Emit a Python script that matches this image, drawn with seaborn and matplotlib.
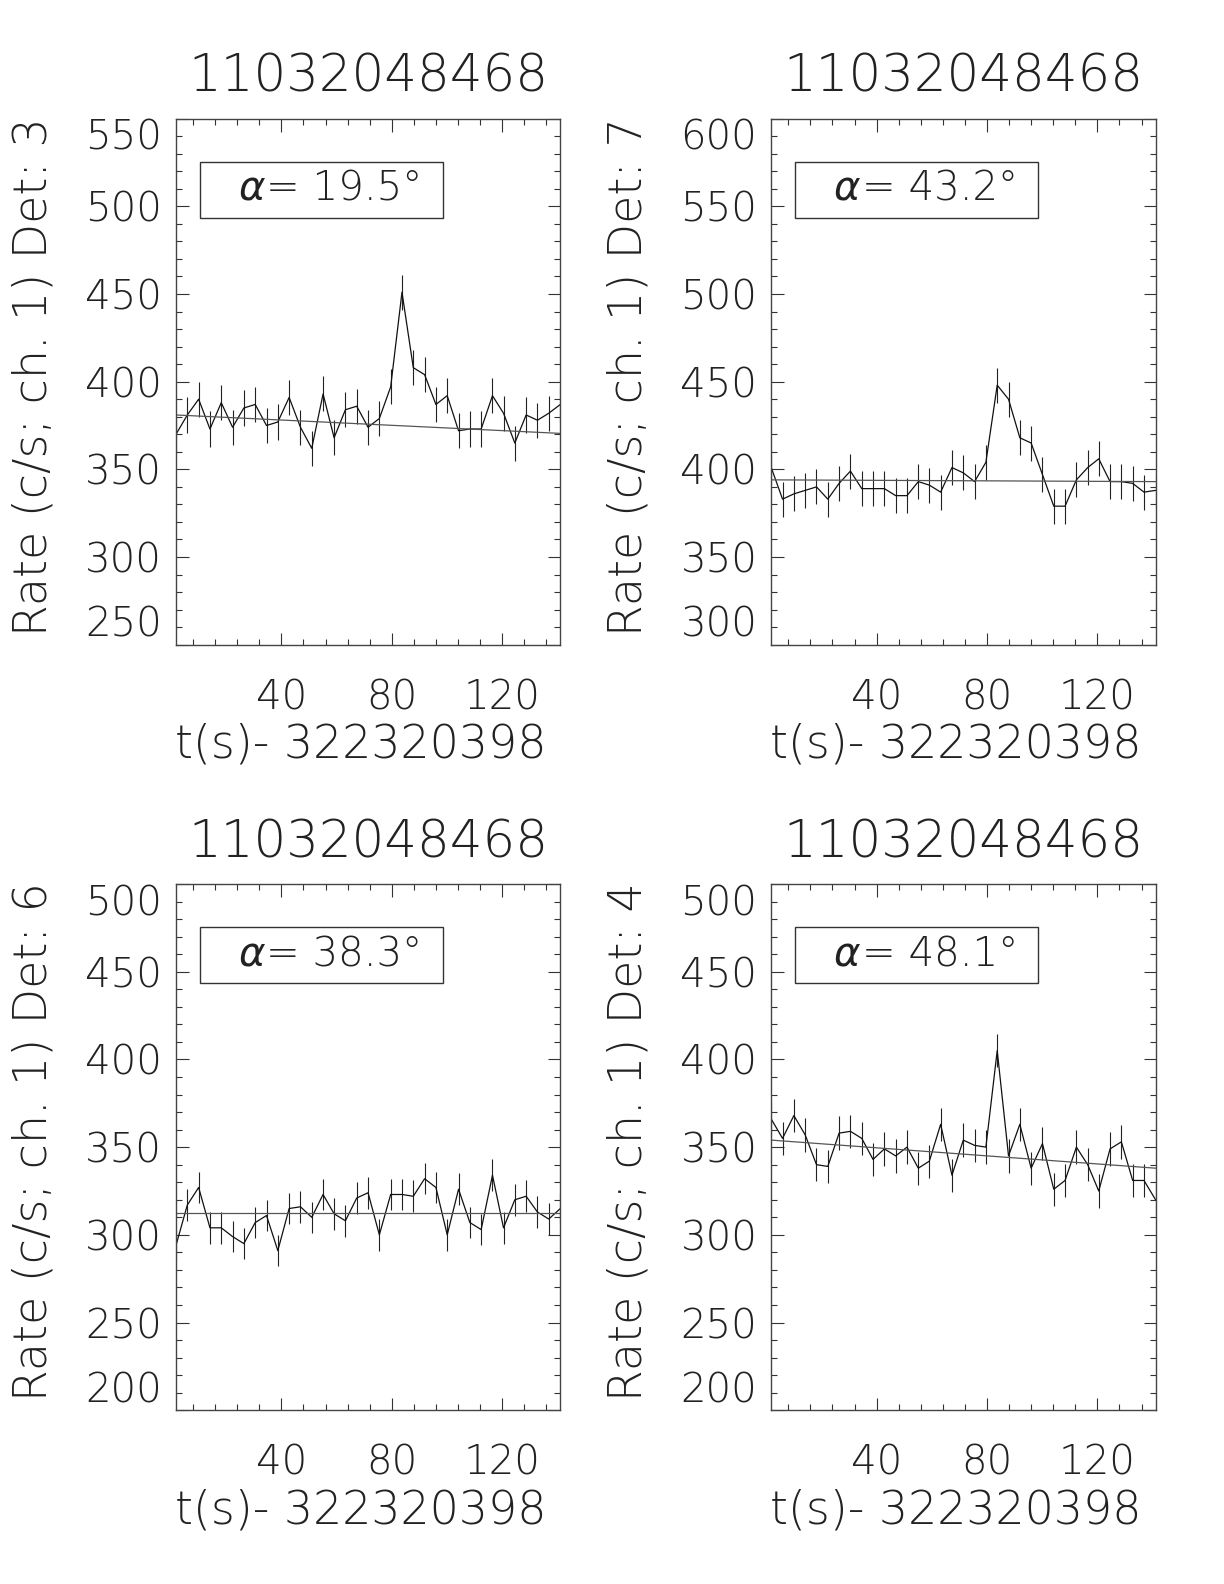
import numpy as np
import pandas as pd
import matplotlib
matplotlib.use('Agg')
import matplotlib.pyplot as plt
from matplotlib.patches import Rectangle
from matplotlib.ticker import MultipleLocator
import seaborn as sns

# bin times (s) relative to 322320398
t = [1.8, 5.9, 10.0, 14.1, 18.2, 22.3, 26.4, 30.5, 34.6, 38.7, 42.8, 46.9,
     51.0, 55.1, 59.1, 63.2, 67.3, 71.4, 75.5, 79.6, 83.7, 87.8, 91.9, 96.0,
     100.1, 104.2, 108.3, 112.4, 116.5, 120.5, 124.6, 128.7, 132.8, 136.9, 141.1]

# count rates per detector (c/s, ch. 1)
rate_det3 = [370, 381, 390, 373, 388, 374, 385, 387, 375, 377, 391, 374, 362, 393,
             368, 384, 386, 374, 379, 397, 451, 408, 404, 387, 392, 372, 373, 373,
             392, 382, 365, 381, 378, 382, 387]
rate_det7 = [401, 383, 386, 388, 390, 383, 392, 399, 389, 389, 389, 385, 385, 393,
             391, 387, 401, 398, 393, 404, 448, 440, 418, 415, 397, 379, 379, 394,
             401, 406, 393, 393, 392, 387, 388]
rate_det6 = [294, 317, 327, 304, 304, 299, 295, 307, 311, 291, 315, 316, 310, 323,
             312, 308, 321, 324, 300, 323, 323, 322, 332, 327, 300, 326, 307, 303,
             334, 304, 320, 322, 313, 309, 315]
rate_det4 = [366, 355, 368, 357, 340, 339, 358, 359, 355, 343, 349, 345, 350, 338,
             342, 363, 334, 354, 351, 350, 405, 345, 363, 338, 352, 326, 331, 350,
             340, 325, 349, 353, 331, 331, 320]

# background fit, value at first and last bin
fit_det3 = [381, 370.5]
fit_det7 = [394, 393]
fit_det6 = [312.5, 312.5]
fit_det4 = [354, 338]

# error bar half length per detector
err_det3 = 10
err_det7 = 10
err_det6 = 9
err_det4 = 9.5

dets = [3, 7, 6, 4]
alphas = [19.5, 43.2, 38.3, 48.1]
yranges = [(250, 550), (300, 600), (200, 500), (200, 500)]
xticks = [40, 80, 120]
title = '11032048468'
xlabel = 't(s)- 322320398'

rates = [rate_det3, rate_det7, rate_det6, rate_det4]
fits = [fit_det3, fit_det7, fit_det6, fit_det4]
errs = [err_det3, err_det7, err_det6, err_det4]

sns.set_style('ticks')
plt.rcParams['font.family'] = ['DejaVu Sans']
plt.rcParams['font.weight'] = 'light'

txt = '#222222'
fig = plt.figure(figsize=(12.24, 15.84), dpi=100)

# axes boxes in figure fractions
positions = [(0.1438, 0.5930, 0.3140, 0.3321),
             (0.6301, 0.5930, 0.3140, 0.3321),
             (0.1438, 0.1097, 0.3140, 0.3322),
             (0.6301, 0.1097, 0.3140, 0.3322)]

for k in range(4):
    ax = fig.add_axes(positions[k])
    df = pd.DataFrame({'t': t, 'rate': rates[k]})

    ax.errorbar(df['t'], df['rate'], yerr=errs[k], fmt='none',
                ecolor='#222222', elinewidth=0.8, capsize=0)
    sns.lineplot(data=df, x='t', y='rate', ax=ax, color='#111111', lw=0.9)
    sns.lineplot(x=[t[0], t[-1]], y=fits[k], ax=ax, color='#555555', lw=0.9)

    ax.set_xlim(t[0], t[-1])
    lo, hi = yranges[k]
    ax.set_ylim(lo, hi)
    ax.set_xticks(xticks)
    ax.set_yticks(np.arange(lo, hi + 1, 50))
    ax.xaxis.set_minor_locator(MultipleLocator(8))
    ax.yaxis.set_minor_locator(MultipleLocator(10))
    ax.tick_params(which='both', direction='in', top=True, right=True,
                   color='#333333', labelsize=29, labelcolor=txt, width=0.8)
    ax.tick_params(which='major', length=9)
    ax.tick_params(which='minor', length=4.5)
    ax.tick_params(axis='x', pad=24)
    ax.tick_params(axis='y', pad=10)
    ylabs = ax.get_yticklabels()
    ylabs[0].set_va('bottom')
    ylabs[-1].set_va('top')
    ax.set_xlabel('')
    ax.set_ylabel('')
    for s in ax.spines.values():
        s.set_color('#444444')
        s.set_linewidth(1.0)

    ax.text(0.5, 1.078, title, transform=ax.transAxes, ha='center', va='center',
            fontsize=37, color=txt)
    ax.text(0.48, -0.19, xlabel, transform=ax.transAxes, ha='center', va='center',
            fontsize=33, color=txt)
    ax.text(-0.372, 0.51, 'Rate (c/s; ch. 1) Det: %d' % dets[k], transform=ax.transAxes,
            ha='center', va='center', rotation=90, fontsize=33, color=txt)

    ax.add_patch(Rectangle((0.063, 0.812), 0.632, 0.106, transform=ax.transAxes,
                           fill=False, edgecolor='#333333', lw=1.0))
    ax.text(0.163, 0.866, 'α', transform=ax.transAxes, style='oblique',
            ha='left', va='center', fontsize=29, color=txt)
    ax.text(0.235, 0.866, '= %.1f°' % alphas[k], transform=ax.transAxes,
            ha='left', va='center', fontsize=29, color=txt)

fig.savefig('out.png', dpi=100, facecolor='white')
